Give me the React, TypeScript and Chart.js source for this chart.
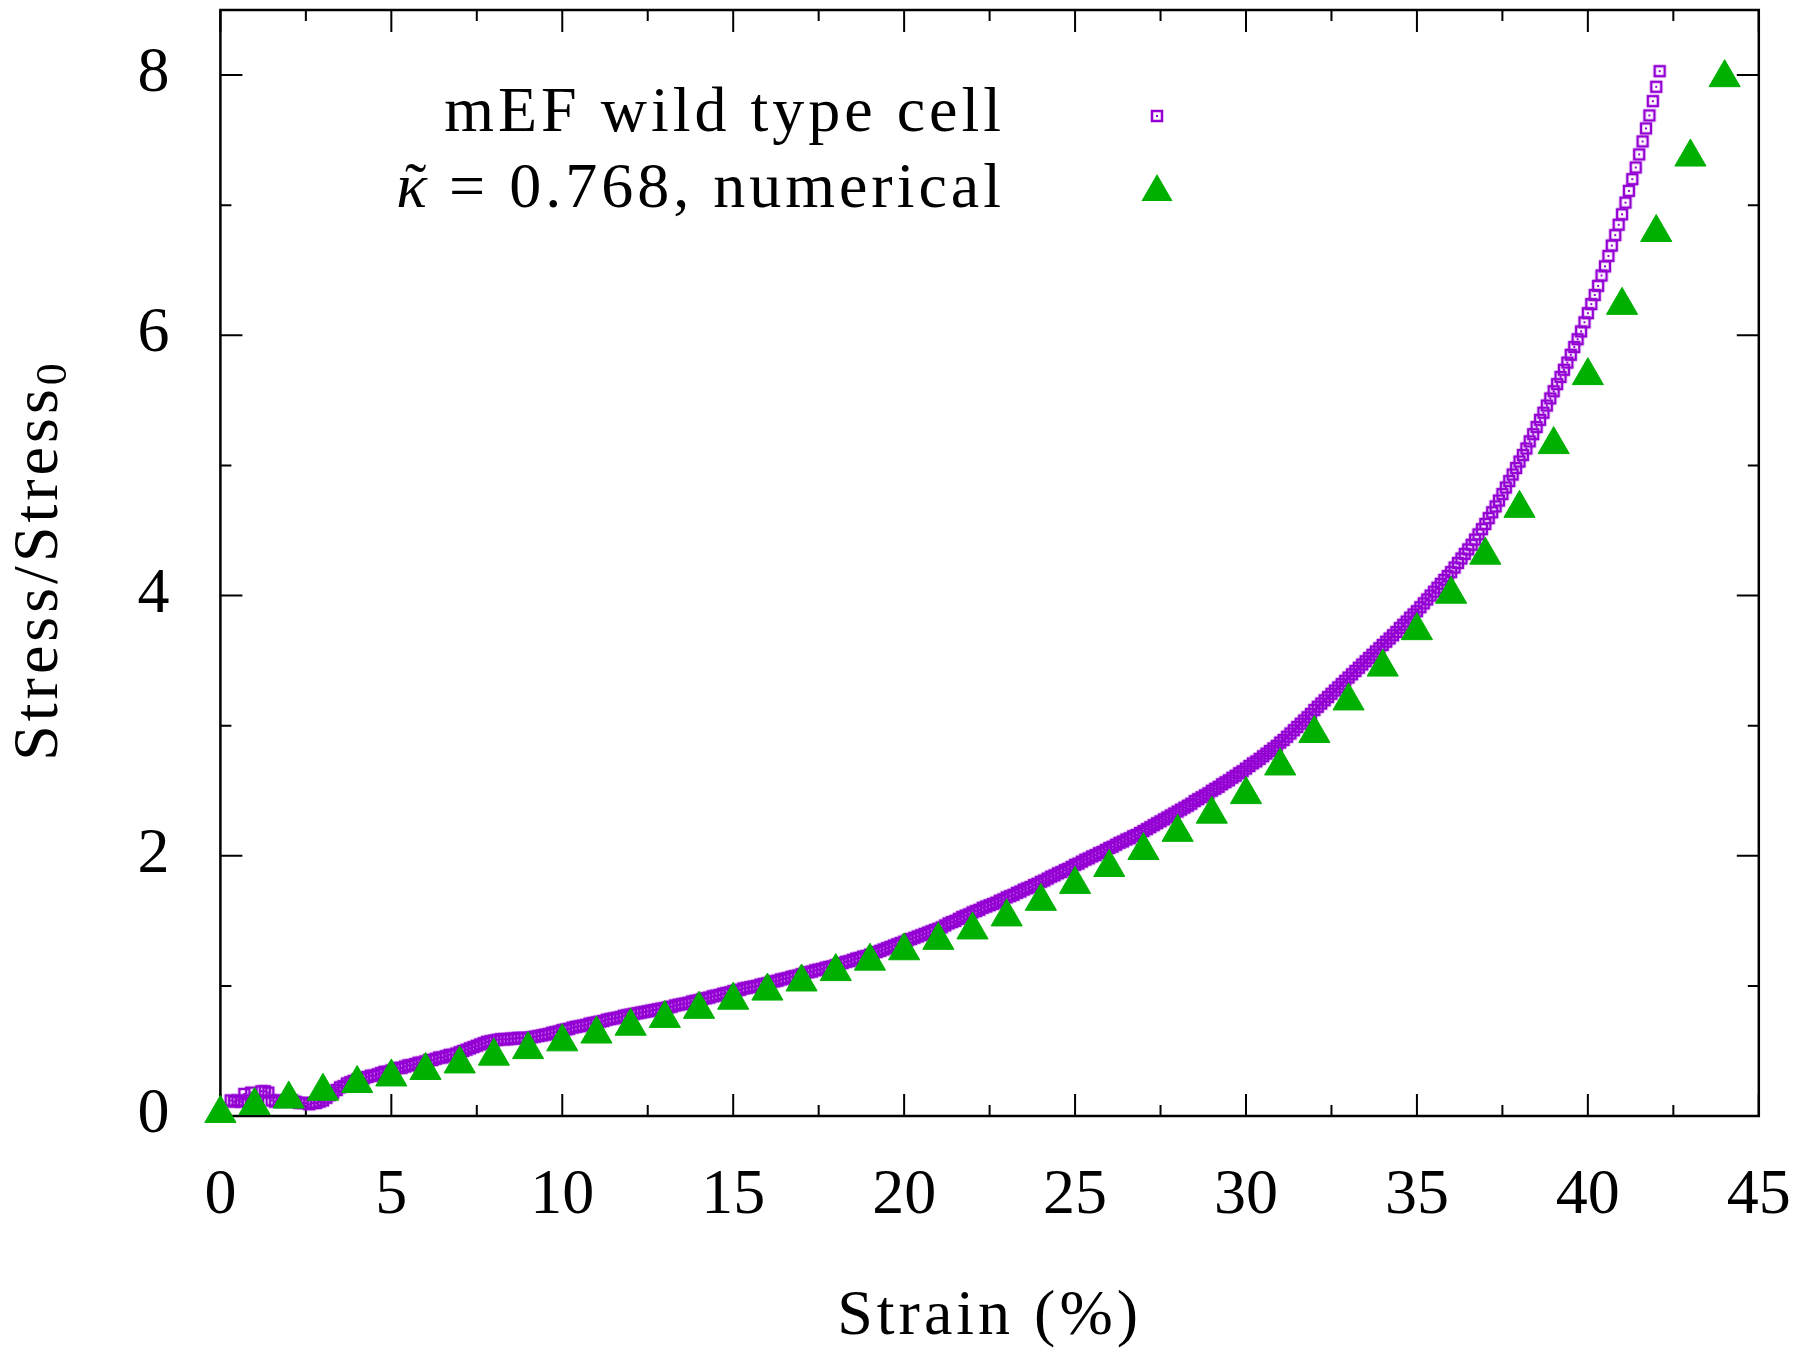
import React, { useEffect, useRef } from 'react';
import { Chart, registerables } from 'chart.js';

Chart.register(...registerables);

// ---------- data ----------
const WT_STRAIN = [
  0.3, 0.4, 0.5, 0.6, 0.7, 0.8, 0.9, 1.0,
  1.1, 1.2, 1.3, 1.4, 1.5, 1.6, 1.7, 1.8, 1.9, 2.0,
  2.1, 2.2, 2.3, 2.4, 2.5, 2.6, 2.7, 2.8, 2.9, 3.0,
  3.1, 3.2, 3.3, 3.4, 3.5, 3.6, 3.7, 3.8, 3.9, 4.0,
  4.1, 4.2, 4.3, 4.4, 4.5, 4.6, 4.7, 4.8, 4.9, 5.0,
  5.1, 5.2, 5.3, 5.4, 5.5, 5.6, 5.7, 5.8, 5.9, 6.0,
  6.1, 6.2, 6.3, 6.4, 6.5, 6.6, 6.7, 6.8, 6.9, 7.0,
  7.1, 7.2, 7.3, 7.4, 7.5, 7.6, 7.7, 7.8, 7.9, 8.0,
  8.1, 8.2, 8.3, 8.4, 8.5, 8.6, 8.7, 8.8, 8.9, 9.0,
  9.1, 9.2, 9.3, 9.4, 9.5, 9.6, 9.7, 9.8, 9.9, 10.0,
  10.1, 10.2, 10.3, 10.4, 10.5, 10.6, 10.7, 10.8, 10.9, 11.0,
  11.1, 11.2, 11.3, 11.4, 11.5, 11.6, 11.7, 11.8, 11.9, 12.0,
  12.1, 12.2, 12.3, 12.4, 12.5, 12.6, 12.7, 12.8, 12.9, 13.0,
  13.1, 13.2, 13.3, 13.4, 13.5, 13.6, 13.7, 13.8, 13.9, 14.0,
  14.1, 14.2, 14.3, 14.4, 14.5, 14.6, 14.7, 14.8, 14.9, 15.0,
  15.1, 15.2, 15.3, 15.4, 15.5, 15.6, 15.7, 15.8, 15.9, 16.0,
  16.1, 16.2, 16.3, 16.4, 16.5, 16.6, 16.7, 16.8, 16.9, 17.0,
  17.1, 17.2, 17.3, 17.4, 17.5, 17.6, 17.7, 17.8, 17.9, 18.0,
  18.1, 18.2, 18.3, 18.4, 18.5, 18.6, 18.7, 18.8, 18.9, 19.0,
  19.1, 19.2, 19.3, 19.4, 19.5, 19.6, 19.7, 19.8, 19.9, 20.0,
  20.1, 20.2, 20.3, 20.4, 20.5, 20.6, 20.7, 20.8, 20.9, 21.0,
  21.1, 21.2, 21.3, 21.4, 21.5, 21.6, 21.7, 21.8, 21.9, 22.0,
  22.1, 22.2, 22.3, 22.4, 22.5, 22.6, 22.7, 22.8, 22.9, 23.0,
  23.1, 23.2, 23.3, 23.4, 23.5, 23.6, 23.7, 23.8, 23.9, 24.0,
  24.1, 24.2, 24.3, 24.4, 24.5, 24.6, 24.7, 24.8, 24.9, 25.0,
  25.1, 25.2, 25.3, 25.4, 25.5, 25.6, 25.7, 25.8, 25.9, 26.0,
  26.1, 26.2, 26.3, 26.4, 26.5, 26.6, 26.7, 26.8, 26.9, 27.0,
  27.1, 27.2, 27.3, 27.4, 27.5, 27.6, 27.7, 27.8, 27.9, 28.0,
  28.1, 28.2, 28.3, 28.4, 28.5, 28.6, 28.7, 28.8, 28.9, 29.0,
  29.1, 29.2, 29.3, 29.4, 29.5, 29.6, 29.7, 29.8, 29.9, 30.0,
  30.1, 30.2, 30.3, 30.4, 30.5, 30.6, 30.7, 30.8, 30.9, 31.0,
  31.1, 31.2, 31.3, 31.4, 31.5, 31.6, 31.7, 31.8, 31.9, 32.0,
  32.1, 32.2, 32.3, 32.4, 32.5, 32.6, 32.7, 32.8, 32.9, 33.0,
  33.1, 33.2, 33.3, 33.4, 33.5, 33.6, 33.7, 33.8, 33.9, 34.0,
  34.1, 34.2, 34.3, 34.4, 34.5, 34.6, 34.7, 34.8, 34.9, 35.0,
  35.1, 35.2, 35.3, 35.4, 35.5, 35.6, 35.7, 35.8, 35.9, 36.0,
  36.1, 36.2, 36.3, 36.4, 36.5, 36.6, 36.7, 36.8, 36.9, 37.0,
  37.1, 37.2, 37.3, 37.4, 37.5, 37.6, 37.7, 37.8, 37.9, 38.0,
  38.1, 38.2, 38.3, 38.4, 38.5, 38.6, 38.7, 38.8, 38.9, 39.0,
  39.1, 39.2, 39.3, 39.4, 39.5, 39.6, 39.7, 39.8, 39.9, 40.0,
  40.1, 40.2, 40.3, 40.4, 40.5, 40.6, 40.7, 40.8, 40.9, 41.0,
  41.1, 41.2, 41.3, 41.4, 41.5, 41.6, 41.7, 41.8, 41.9, 42.0, 42.1,
];

const WT_STRESS = [
  0.12, 0.11, 0.12, 0.11, 0.17, 0.12, 0.18, 0.11,
  0.12, 0.19, 0.19, 0.18, 0.12, 0.11, 0.12, 0.11, 0.12, 0.11,
  0.12, 0.11, 0.10, 0.10, 0.10, 0.09, 0.10, 0.10, 0.11, 0.12,
  0.14, 0.16, 0.18, 0.20, 0.22, 0.23, 0.25, 0.26, 0.27, 0.28,
  0.29, 0.29, 0.30, 0.31, 0.31, 0.32, 0.33, 0.34, 0.34, 0.35,
  0.36, 0.37, 0.37, 0.38, 0.39, 0.39, 0.40, 0.41, 0.41, 0.42,
  0.43, 0.43, 0.44, 0.45, 0.45, 0.46, 0.47, 0.47, 0.48, 0.49,
  0.50, 0.51, 0.52, 0.53, 0.54, 0.55, 0.56, 0.57, 0.575, 0.58,
  0.585, 0.59, 0.59, 0.59, 0.595, 0.595, 0.60, 0.60, 0.60, 0.60,
  0.605, 0.61, 0.615, 0.62, 0.625, 0.63, 0.64, 0.645, 0.65, 0.66,
  0.665, 0.67, 0.68, 0.685, 0.69, 0.695, 0.70, 0.71, 0.715, 0.72,
  0.725, 0.73, 0.74, 0.745, 0.75, 0.755, 0.76, 0.77, 0.775, 0.78,
  0.785, 0.79, 0.795, 0.80, 0.805, 0.81, 0.815, 0.82, 0.825, 0.83,
  0.835, 0.84, 0.85, 0.855, 0.86, 0.865, 0.87, 0.88, 0.885, 0.89,
  0.90, 0.905, 0.91, 0.92, 0.925, 0.93, 0.94, 0.945, 0.95, 0.96,
  0.965, 0.97, 0.98, 0.985, 0.99, 0.995, 1.00, 1.01, 1.015, 1.02,
  1.03, 1.035, 1.04, 1.05, 1.055, 1.06, 1.07, 1.075, 1.08, 1.09,
  1.10, 1.105, 1.11, 1.12, 1.125, 1.13, 1.14, 1.145, 1.15, 1.16,
  1.17, 1.175, 1.185, 1.19, 1.20, 1.21, 1.215, 1.225, 1.23, 1.24,
  1.25, 1.26, 1.27, 1.28, 1.29, 1.30, 1.31, 1.32, 1.33, 1.34,
  1.35, 1.36, 1.37, 1.38, 1.39, 1.40, 1.41, 1.42, 1.43, 1.44,
  1.45, 1.465, 1.48, 1.49, 1.50, 1.515, 1.53, 1.54, 1.55, 1.565,
  1.575, 1.585, 1.60, 1.61, 1.62, 1.63, 1.64, 1.655, 1.665, 1.68,
  1.69, 1.70, 1.715, 1.725, 1.74, 1.75, 1.76, 1.775, 1.785, 1.80,
  1.81, 1.825, 1.84, 1.85, 1.865, 1.875, 1.89, 1.90, 1.915, 1.93,
  1.94, 1.955, 1.97, 1.98, 1.995, 2.005, 2.02, 2.03, 2.045, 2.06,
  2.07, 2.085, 2.10, 2.11, 2.125, 2.135, 2.15, 2.16, 2.175, 2.19,
  2.205, 2.22, 2.235, 2.25, 2.265, 2.28, 2.295, 2.31, 2.325, 2.34,
  2.355, 2.37, 2.385, 2.40, 2.42, 2.435, 2.45, 2.465, 2.48, 2.50,
  2.515, 2.53, 2.55, 2.565, 2.58, 2.60, 2.615, 2.635, 2.65, 2.67,
  2.69, 2.71, 2.725, 2.745, 2.765, 2.785, 2.805, 2.825, 2.845, 2.87,
  2.89, 2.915, 2.94, 2.965, 2.99, 3.015, 3.04, 3.065, 3.09, 3.12,
  3.145, 3.17, 3.195, 3.22, 3.245, 3.27, 3.295, 3.32, 3.345, 3.37,
  3.395, 3.42, 3.445, 3.47, 3.495, 3.52, 3.545, 3.57, 3.595, 3.62,
  3.645, 3.67, 3.695, 3.72, 3.75, 3.775, 3.80, 3.83, 3.855, 3.88,
  3.91, 3.94, 3.97, 4.00, 4.03, 4.06, 4.09, 4.12, 4.15, 4.18,
  4.215, 4.25, 4.285, 4.32, 4.355, 4.39, 4.43, 4.47, 4.51, 4.55,
  4.595, 4.64, 4.685, 4.73, 4.78, 4.83, 4.88, 4.93, 4.98, 5.03,
  5.08, 5.13, 5.185, 5.24, 5.295, 5.35, 5.405, 5.46, 5.515, 5.57,
  5.625, 5.68, 5.735, 5.79, 5.85, 5.91, 5.97, 6.03, 6.10, 6.17,
  6.24, 6.31, 6.38, 6.46, 6.53, 6.61, 6.69, 6.77, 6.85, 6.93,
  7.02, 7.11, 7.20, 7.29, 7.39, 7.49, 7.59, 7.69, 7.80, 7.91, 8.03,
];

const NUM_STRAIN = [
  0, 1, 2, 3, 4, 5, 6, 7, 8, 9, 10, 11, 12, 13, 14, 15, 16, 17, 18, 19, 20, 21,
  22, 23, 24, 25, 26, 27, 28, 29, 30, 31, 32, 33, 34, 35, 36, 37, 38, 39, 40, 41,
  42, 43, 44,
];
const NUM_STRESS = [
  0.02, 0.08, 0.13, 0.19, 0.25, 0.30, 0.35, 0.40, 0.46, 0.51, 0.57, 0.63, 0.69,
  0.75, 0.82, 0.89, 0.96, 1.03, 1.11, 1.19, 1.27, 1.35, 1.43, 1.53, 1.65, 1.78,
  1.91, 2.04, 2.18, 2.32, 2.47, 2.69, 2.94, 3.19, 3.45, 3.73, 4.01, 4.31, 4.67,
  5.16, 5.69, 6.23, 6.79, 7.37, 7.98,
];

const X_MAJOR = [0, 5, 10, 15, 20, 25, 30, 35, 40, 45];
const X_MINOR = [2.5, 7.5, 12.5, 17.5, 22.5, 27.5, 32.5, 37.5, 42.5];
const Y_MAJOR = [0, 2, 4, 6, 8];
const Y_MINOR = [1, 3, 5, 7];
const X_TICK_LABELS = ['0', '5', '10', '15', '20', '25', '30', '35', '40', '45'];
const Y_TICK_LABELS = ['0', '2', '4', '6', '8'];

const SERIES_LABELS = ['mEF wild type cell', '\u03BA = 0.768, numerical'];
const X_TITLE = 'Strain (%)';
const Y_TITLE = 'Stress/Stress';
const Y_TITLE_SUB = '0';

// ---------- style ----------
const FONT = '"Liberation Serif", "Times New Roman", serif';
const PURPLE = '#9400d3';
const GREEN = '#00b000';
const TRI_R = 18;

function makeSquare(): HTMLCanvasElement {
  const c = document.createElement('canvas');
  c.width = 16;
  c.height = 16;
  const g = c.getContext('2d')!;
  g.strokeStyle = PURPLE;
  g.lineWidth = 2.5;
  g.strokeRect(3, 3, 10, 10);
  g.fillStyle = PURPLE;
  g.fillRect(7, 7, 2, 2);
  return c;
}

export default function App() {
  const ref = useRef<HTMLCanvasElement | null>(null);

  useEffect(() => {
    if (!ref.current) return;
    const square = makeSquare();

    const framePlugin = {
      id: 'frame',
      beforeDatasetsDraw(chart: any) {
        const { ctx, chartArea, scales } = chart;
        const { left, right, top, bottom } = chartArea;
        const xs = scales.x;
        const ys = scales.y;
        ctx.save();
        ctx.strokeStyle = '#000';
        ctx.lineWidth = 2.5;
        ctx.strokeRect(left, top, right - left, bottom - top);
        ctx.lineWidth = 2;
        ctx.beginPath();
        const xt = (v: number, len: number) => {
          const p = xs.getPixelForValue(v);
          ctx.moveTo(p, bottom);
          ctx.lineTo(p, bottom - len);
          ctx.moveTo(p, top);
          ctx.lineTo(p, top + len);
        };
        const yt = (v: number, len: number) => {
          const p = ys.getPixelForValue(v);
          ctx.moveTo(left, p);
          ctx.lineTo(left + len, p);
          ctx.moveTo(right, p);
          ctx.lineTo(right - len, p);
        };
        X_MAJOR.forEach((v) => xt(v, 22));
        X_MINOR.forEach((v) => xt(v, 11));
        Y_MAJOR.forEach((v) => yt(v, 22));
        Y_MINOR.forEach((v) => yt(v, 11));
        ctx.stroke();

        // tick labels
        ctx.fillStyle = '#000';
        ctx.font = `64px ${FONT}`;
        ctx.textBaseline = 'alphabetic';
        ctx.textAlign = 'center';
        X_MAJOR.forEach((v, i) => {
          ctx.fillText(X_TICK_LABELS[i], xs.getPixelForValue(v), bottom + 97);
        });
        ctx.textAlign = 'right';
        Y_MAJOR.forEach((v, i) => {
          ctx.fillText(Y_TICK_LABELS[i], left - 51, ys.getPixelForValue(v) + 16);
        });
        ctx.restore();
      },
    };

    const textPlugin = {
      id: 'texts',
      afterDraw(chart: any) {
        const { ctx, chartArea } = chart;
        ctx.save();
        ctx.fillStyle = '#000';
        (ctx as any).letterSpacing = '4px';
        ctx.textBaseline = 'alphabetic';

        // x title
        ctx.font = `64px ${FONT}`;
        ctx.textAlign = 'center';
        ctx.fillText(X_TITLE, (chartArea.left + chartArea.right) / 2, 1334);

        // y title (rotated) with subscript
        ctx.save();
        ctx.translate(57, 560);
        ctx.rotate(-Math.PI / 2);
        ctx.textAlign = 'left';
        ctx.font = `64px ${FONT}`;
        const w1 = ctx.measureText(Y_TITLE).width;
        ctx.font = `44px ${FONT}`;
        const w2 = ctx.measureText(Y_TITLE_SUB).width;
        const start = -(w1 + w2) / 2;
        ctx.font = `64px ${FONT}`;
        ctx.fillText(Y_TITLE, start, 0);
        ctx.font = `44px ${FONT}`;
        ctx.fillText(Y_TITLE_SUB, start + w1, 9);
        ctx.restore();

        // legend
        const tx = 1005;
        ctx.textAlign = 'right';
        ctx.font = `64px ${FONT}`;
        ctx.fillText(SERIES_LABELS[0], tx, 131);
        const rest = SERIES_LABELS[1].slice(1);
        const kappa = SERIES_LABELS[1].slice(0, 1);
        ctx.fillText(rest, tx, 207);
        const wr = ctx.measureText(rest).width;
        ctx.font = `italic 64px ${FONT}`;
        (ctx as any).letterSpacing = '0px';
        const kx = tx - wr - 2;
        ctx.fillText(kappa, kx, 207);
        const wk = ctx.measureText(kappa).width;
        // tilde accent above kappa
        ctx.font = `64px ${FONT}`;
        ctx.textAlign = 'center';
        ctx.fillText('\u02DC', kx - wk / 2 + 4, 207);

        // legend samples
        const sx = 1157;
        ctx.drawImage(square, sx - 8, 116 - 8);
        const cy = 192;
        ctx.fillStyle = GREEN;
        ctx.beginPath();
        const s = Math.sin((2 * Math.PI) / 3) * TRI_R;
        ctx.moveTo(sx, cy - TRI_R);
        ctx.lineTo(sx + s, cy + TRI_R / 2);
        ctx.lineTo(sx - s, cy + TRI_R / 2);
        ctx.closePath();
        ctx.fill();
        ctx.restore();
      },
    };

    const wtData = WT_STRAIN.map((x, i) => ({ x, y: WT_STRESS[i] }));
    const numData = NUM_STRAIN.map((x, i) => ({ x, y: NUM_STRESS[i] }));

    const chart = new Chart(ref.current, {
      type: 'scatter',
      data: {
        datasets: [
          {
            label: SERIES_LABELS[0],
            data: wtData,
            pointStyle: square as any,
            pointRadius: 6,
            showLine: false,
            order: 1,
            clip: false as any,
          },
          {
            label: SERIES_LABELS[1],
            data: numData,
            pointStyle: 'triangle',
            pointRadius: TRI_R,
            pointBackgroundColor: GREEN,
            pointBorderColor: GREEN,
            pointBorderWidth: 1,
            showLine: false,
            order: 0,
            clip: false as any,
          },
        ],
      },
      options: {
        responsive: false,
        animation: false,
        events: [],
        layout: { autoPadding: false, padding: { top: 10, right: 41.2, left: 0, bottom: 0 } },
        plugins: {
          legend: { display: false },
          tooltip: { enabled: false },
          title: { display: false },
        },
        scales: {
          x: {
            type: 'linear',
            min: 0,
            max: 45,
            afterFit: (s: any) => {
              s.height = 242;
            },
            grid: { display: false },
            border: { display: false },
            title: { display: false },
            ticks: { display: false, stepSize: 5 },
          },
          y: {
            type: 'linear',
            min: 0,
            max: 8.5,
            afterFit: (s: any) => {
              s.width = 220.4;
            },
            grid: { display: false },
            border: { display: false },
            title: { display: false },
            ticks: { display: false, stepSize: 2 },
          },
        },
      },
      plugins: [framePlugin, textPlugin],
    });

    return () => chart.destroy();
  }, []);

  return (
    <div style={{ position: 'absolute', left: 0, top: 0, width: 1800, height: 1358, background: '#fff' }}>
      <canvas ref={ref} width={1800} height={1358} style={{ display: 'block', width: 1800, height: 1358 }} />
    </div>
  );
}
